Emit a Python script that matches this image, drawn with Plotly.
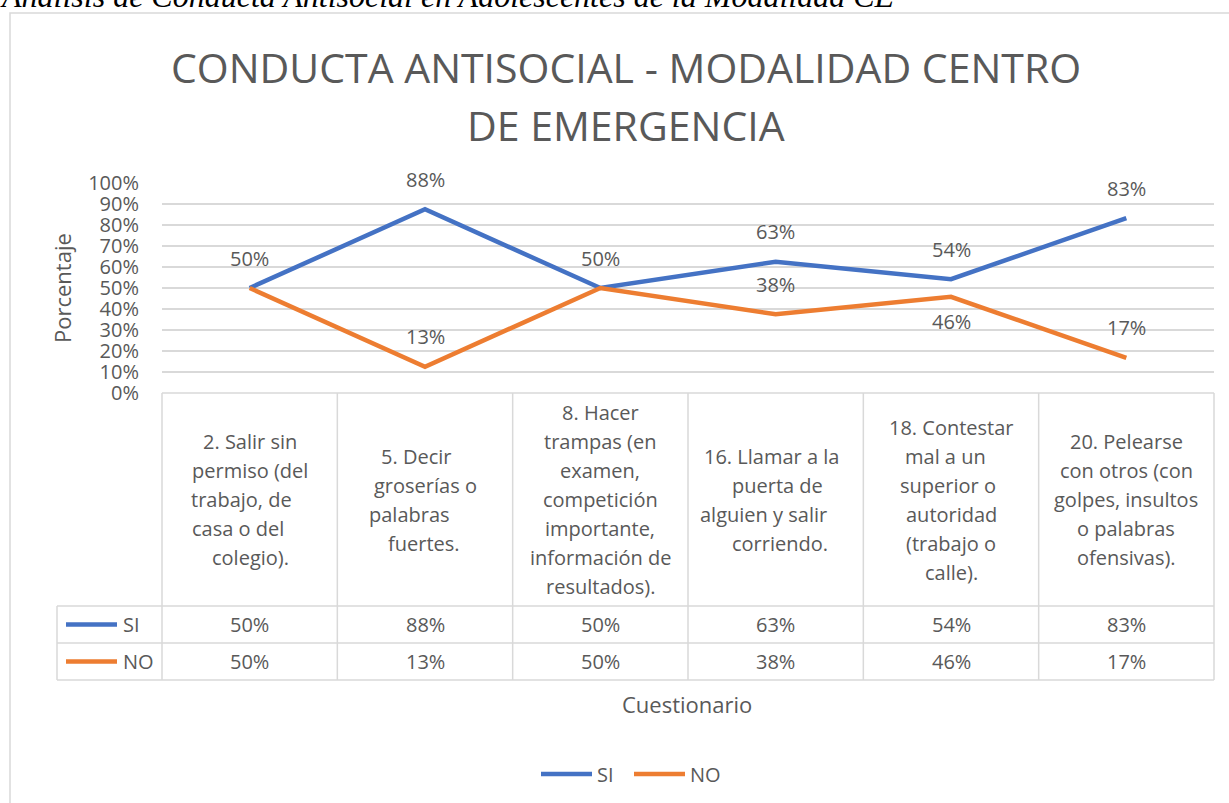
import plotly.graph_objects as go

# ---------------- data ----------------
categories = [
    "2. Salir sin<br>permiso (del<br>trabajo, de<br>casa o del<br>colegio).",
    "5. Decir<br>groserías o<br>palabras<br>fuertes.",
    "8. Hacer<br>trampas (en<br>examen,<br>competición<br>importante,<br>información de<br>resultados).",
    "16. Llamar a la<br>puerta de<br>alguien y salir<br>corriendo.",
    "18. Contestar<br>mal a un<br>superior o<br>autoridad<br>(trabajo o<br>calle).",
    "20. Pelearse<br>con otros (con<br>golpes, insultos<br>o palabras<br>ofensivas).",
]
si_values = [50.0, 87.5, 50.0, 62.5, 54.17, 83.33]
no_values = [50.0, 12.5, 50.0, 37.5, 45.83, 16.67]
series_names = ["SI", "NO"]
y_ticks = [0, 10, 20, 30, 40, 50, 60, 70, 80, 90, 100]
y_tick_labels = [f"{v}%" for v in y_ticks]

title_lines = ["CONDUCTA ANTISOCIAL - MODALIDAD CENTRO", "DE EMERGENCIA"]
caption_text = "Análisis de Conducta Antisocial en Adolescentes de la Modalidad CE"
y_title = "Porcentaje"
x_title = "Cuestionario"

# ---------------- style ----------------
colors = ["#4472C4", "#ED7D31"]
text_color = "#595959"
grid_color = "#D9D9D9"
FONT = "Open Sans"
W, H_FIG = 1229, 803
L, R_PX, T_PX, B_PX = 162, 1214, 183, 393
PW, PH = R_PX - L, B_PX - T_PX
# label placement: +1 above the point, -1 below
label_side = {"SI": [1, 1, 1, 1, 1, 1], "NO": [1, 1, 1, 1, -1, 1]}
# small horizontal offsets of wrapped header lines (px), as in the source table
header_shift = [
    [0, 0, -8, -12, 1],
    [-9, 0, -16, -1],
    [0, 0, 0, 0, 0, 0, 0],
    [-4, 2, -12, 4],
    [0, -6, -3, 0, 0, 0],
    [0, 0, 0, 0, 0],
]


def px2x(px):
    return (px - L) / PW


def py2y(py):
    return (B_PX - py) / PH


def pct(v):
    return f"{int(v + 0.5)}%"


n = len(categories)
series_vals = [si_values, no_values]

fig = go.Figure()
for name, vals, col in zip(series_names, series_vals, colors):
    fig.add_trace(go.Scatter(x=categories, y=vals, mode="lines", name=name,
                             line=dict(color=col, width=4.5), hoverinfo="skip"))

annotations = []
shapes = []
tfont = dict(family=FONT, size=20, color=text_color)

# data labels
for s, (name, vals) in enumerate(zip(series_names, series_vals)):
    for i, v in enumerate(vals):
        if s == 1 and abs(v - si_values[i]) < 1e-9:
            continue
        side = label_side[name][i]
        annotations.append(dict(x=categories[i], y=v, xref="x", yref="y", text=pct(v),
                                showarrow=False, xanchor="center", yanchor="middle",
                                yshift=30 if side > 0 else -25, font=tfont))

# ----- data table -----
hdr_top, hdr_bot, row1_bot, row2_bot = 393, 606, 643, 680
key_left = 57
line_kw = dict(color=grid_color, width=1.5)
for k in range(n + 1):
    shapes.append(dict(type="line", xref="paper", yref="paper",
                       x0=k / n, x1=k / n, y0=py2y(hdr_top), y1=py2y(row2_bot), line=line_kw))
shapes.append(dict(type="line", xref="paper", yref="paper", x0=px2x(key_left), x1=px2x(key_left),
                   y0=py2y(hdr_bot), y1=py2y(row2_bot), line=line_kw))
shapes.append(dict(type="line", xref="paper", yref="paper", x0=0, x1=1,
                   y0=py2y(hdr_top), y1=py2y(hdr_top), line=line_kw))
for yy in (hdr_bot, row1_bot, row2_bot):
    shapes.append(dict(type="line", xref="paper", yref="paper", x0=px2x(key_left), x1=1,
                       y0=py2y(yy), y1=py2y(yy), line=line_kw))

# header text, line by line
line_h = 29
hdr_mid = (hdr_top + hdr_bot) / 2
for i, cat in enumerate(categories):
    lines = cat.split("<br>")
    m = len(lines)
    for j, ln in enumerate(lines):
        py = hdr_mid + (j - (m - 1) / 2) * line_h
        annotations.append(dict(x=(i + 0.5) / n, y=py2y(py), xref="paper", yref="paper",
                                text=ln, showarrow=False, xanchor="center", yanchor="middle",
                                xshift=header_shift[i][j], font=tfont))

# value rows
row_mids = [(hdr_bot + row1_bot) / 2, (row1_bot + row2_bot) / 2]
for s, (name, vals, col) in enumerate(zip(series_names, series_vals, colors)):
    ym = py2y(row_mids[s])
    for i, v in enumerate(vals):
        annotations.append(dict(x=(i + 0.5) / n, y=ym, xref="paper", yref="paper",
                                text=pct(v), showarrow=False, xanchor="center",
                                yanchor="middle", font=tfont))
    shapes.append(dict(type="line", xref="paper", yref="paper", x0=px2x(66), x1=px2x(117),
                       y0=ym, y1=ym, line=dict(color=col, width=4.5)))
    annotations.append(dict(x=px2x(121), y=ym, xref="paper", yref="paper", text=name,
                            showarrow=False, xanchor="left", yanchor="middle", font=tfont))

# bottom legend
leg_y = py2y(774)
for (x0, x1), name, col in zip([(541, 592), (634, 685)], series_names, colors):
    shapes.append(dict(type="line", xref="paper", yref="paper", x0=px2x(x0), x1=px2x(x1),
                       y0=leg_y, y1=leg_y, line=dict(color=col, width=4.5)))
    annotations.append(dict(x=px2x(x1 + 3), y=leg_y, xref="paper", yref="paper", text=name,
                            showarrow=False, xanchor="left", yanchor="middle", font=tfont))

# axis titles
annotations.append(dict(x=px2x(62), y=py2y(288), xref="paper", yref="paper", text=y_title,
                        textangle=-90, showarrow=False, xanchor="center", yanchor="middle",
                        font=dict(family=FONT, size=22, color=text_color)))
annotations.append(dict(x=px2x(687), y=py2y(704), xref="paper", yref="paper", text=x_title,
                        showarrow=False, xanchor="center", yanchor="middle",
                        font=dict(family=FONT, size=22, color=text_color)))

# chart title (two lines, Excel-like spacing)
for py, ln in zip([67, 125], title_lines):
    annotations.append(dict(x=px2x(626), y=py2y(py), xref="paper", yref="paper", text=ln,
                            showarrow=False, xanchor="center", yanchor="middle",
                            font=dict(family=FONT, size=41, color=text_color)))

# caption cut off at the top of the page
annotations.append(dict(x=px2x(-2), y=py2y(-4), xref="paper", yref="paper",
                        text=f"<i>{caption_text}</i>", showarrow=False,
                        xanchor="left", yanchor="middle",
                        font=dict(family="Liberation Serif", size=32, color="#000000")))

# outer chart frame
shapes.append(dict(type="rect", xref="paper", yref="paper", x0=px2x(10), x1=px2x(1240),
                   y0=py2y(820), y1=py2y(13), line=dict(color=grid_color, width=1.5),
                   fillcolor="rgba(0,0,0,0)", layer="below"))

fig.update_layout(
    width=W, height=H_FIG,
    margin=dict(l=L, r=W - R_PX, t=T_PX, b=H_FIG - B_PX, pad=0),
    paper_bgcolor="white", plot_bgcolor="white",
    showlegend=False,
    font=dict(family=FONT, size=20, color=text_color),
    xaxis=dict(type="category", range=[-0.5, n - 0.5], showticklabels=False,
               showgrid=False, zeroline=False, showline=False, fixedrange=True),
    yaxis=dict(range=[-0.01, 100.01], tickmode="array", tickvals=y_ticks, ticktext=y_tick_labels,
               showgrid=True, gridcolor=grid_color, gridwidth=1.5, zeroline=False,
               showline=False, ticks="", ticklabelstandoff=22,
               tickfont=dict(family=FONT, size=20, color=text_color), fixedrange=True),
    annotations=annotations,
    shapes=shapes,
)

fig.write_html("out.html", config={"displayModeBar": False},
               post_script="document.body.style.margin='0px';")
